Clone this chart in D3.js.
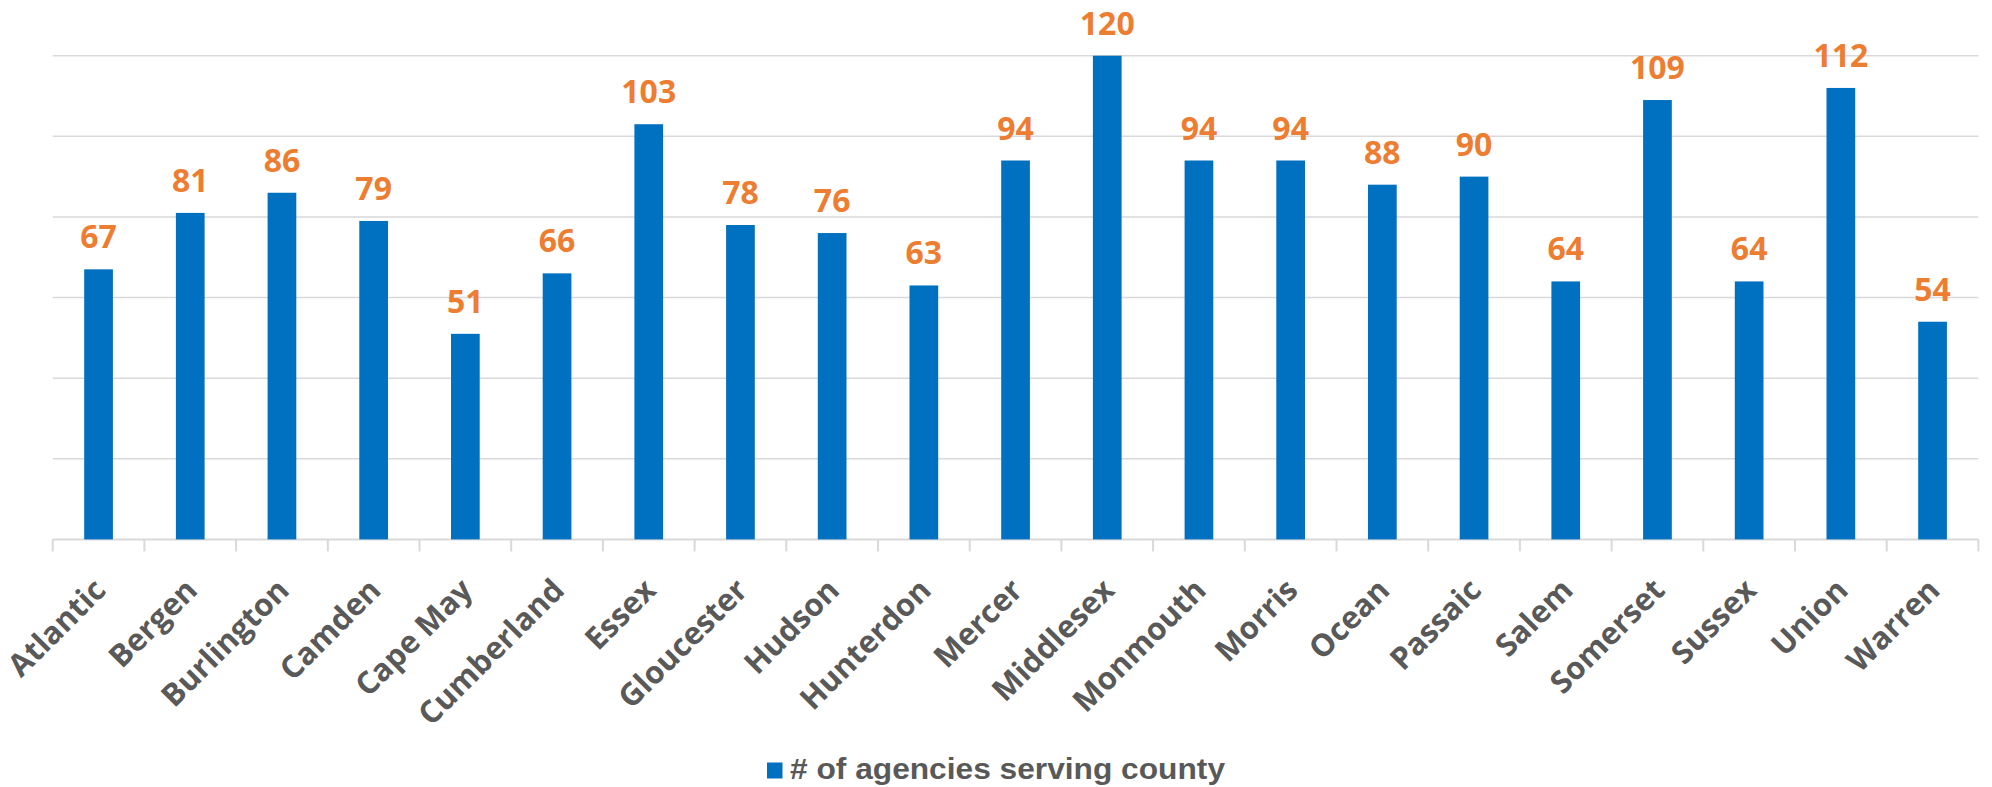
<!DOCTYPE html>
<html>
<head>
<meta charset="utf-8">
<script src="https://cdn.jsdelivr.net/npm/d3@7"></script>
<style>
  html, body { margin: 0; padding: 0; background: #ffffff; }
  svg { display: block; }
</style>
</head>
<body>
<svg id="chart" width="1992" height="787"></svg>
<script>
const categories = ["Atlantic","Bergen","Burlington","Camden","Cape May","Cumberland","Essex","Gloucester","Hudson","Hunterdon","Mercer","Middlesex","Monmouth","Morris","Ocean","Passaic","Salem","Somerset","Sussex","Union","Warren"];
const values = [67,81,86,79,51,66,103,78,76,63,94,120,94,94,88,90,64,109,64,112,54];
const gridTicks = [0,20,40,60,80,100,120];
const seriesName = "# of agencies serving county";

const svg = d3.select("#chart");
const plotLeft = 52.7, plotRight = 1978.4, plotTop = 55.7, plotBottom = 539.4;

const x = d3.scaleBand().domain(categories).range([plotLeft, plotRight]).paddingInner(0).paddingOuter(0);
const y = d3.scaleLinear().domain([0, 120]).range([plotBottom, plotTop]);
const barW = x.step() * 0.313;

// gridlines
svg.append("g").selectAll("line").data(gridTicks.filter(d => d > 0)).join("line")
  .attr("x1", plotLeft).attr("x2", plotRight)
  .attr("y1", d => y(d)).attr("y2", d => y(d))
  .attr("stroke", "#d9d9d9").attr("stroke-width", 1.5);

// x axis
const xAxis = d3.axisBottom(x).tickSize(0).tickFormat("");
const ag = svg.append("g").attr("transform", `translate(0,${plotBottom})`).call(xAxis);
ag.select(".domain").remove();
ag.append("line").attr("x1", plotLeft).attr("x2", plotRight).attr("y1", 0).attr("y2", 0)
  .attr("stroke", "#d9d9d9").attr("stroke-width", 2);
const tickPos = categories.map(c => x(c)).concat([x(categories[categories.length-1]) + x.step()]);
ag.selectAll("line.tk").data(tickPos).join("line").attr("class", "tk")
  .attr("x1", d => d).attr("x2", d => d).attr("y1", 0).attr("y2", 12)
  .attr("stroke", "#d9d9d9").attr("stroke-width", 2);

// bars
svg.append("g").selectAll("rect").data(categories).join("rect")
  .attr("x", (d) => x(d) + x.step()/2 - barW/2)
  .attr("y", (d, i) => y(values[i]))
  .attr("width", barW)
  .attr("height", (d, i) => plotBottom - y(values[i]))
  .attr("fill", "#0070C0");

// value labels
svg.append("g").selectAll("text").data(categories).join("text")
  .attr("x", d => x(d) + x.step()/2)
  .attr("y", (d, i) => y(values[i]) - 21)
  .attr("text-anchor", "middle")
  .attr("font-family", "'Open Sans', sans-serif")
  .attr("font-weight", "bold")
  .attr("font-size", 32)
  .attr("fill", "#ED7D31")
  .text((d, i) => values[i]);

// category labels
svg.append("g").selectAll("text").data(categories).join("text")
  .attr("transform", d => `translate(${x(d) + x.step()/2 + 9},592) rotate(-45)`)
  .attr("text-anchor", "end")
  .attr("font-family", "'Open Sans', sans-serif")
  .attr("font-weight", "bold")
  .attr("font-size", 31)
  .attr("fill", "#595959")
  .text(d => d);

// legend
const lg = svg.append("g");
lg.append("rect").attr("x", 767).attr("y", 762.5).attr("width", 15.5).attr("height", 16).attr("fill", "#0070C0");
lg.append("text").attr("x", 790).attr("y", 779)
  .attr("font-family", "'Liberation Sans', Arial, sans-serif")
  .attr("font-weight", "bold")
  .attr("font-size", 30)
  .attr("textLength", 435).attr("lengthAdjust", "spacingAndGlyphs")
  .attr("fill", "#595959")
  .text(seriesName);
</script>
</body>
</html>
